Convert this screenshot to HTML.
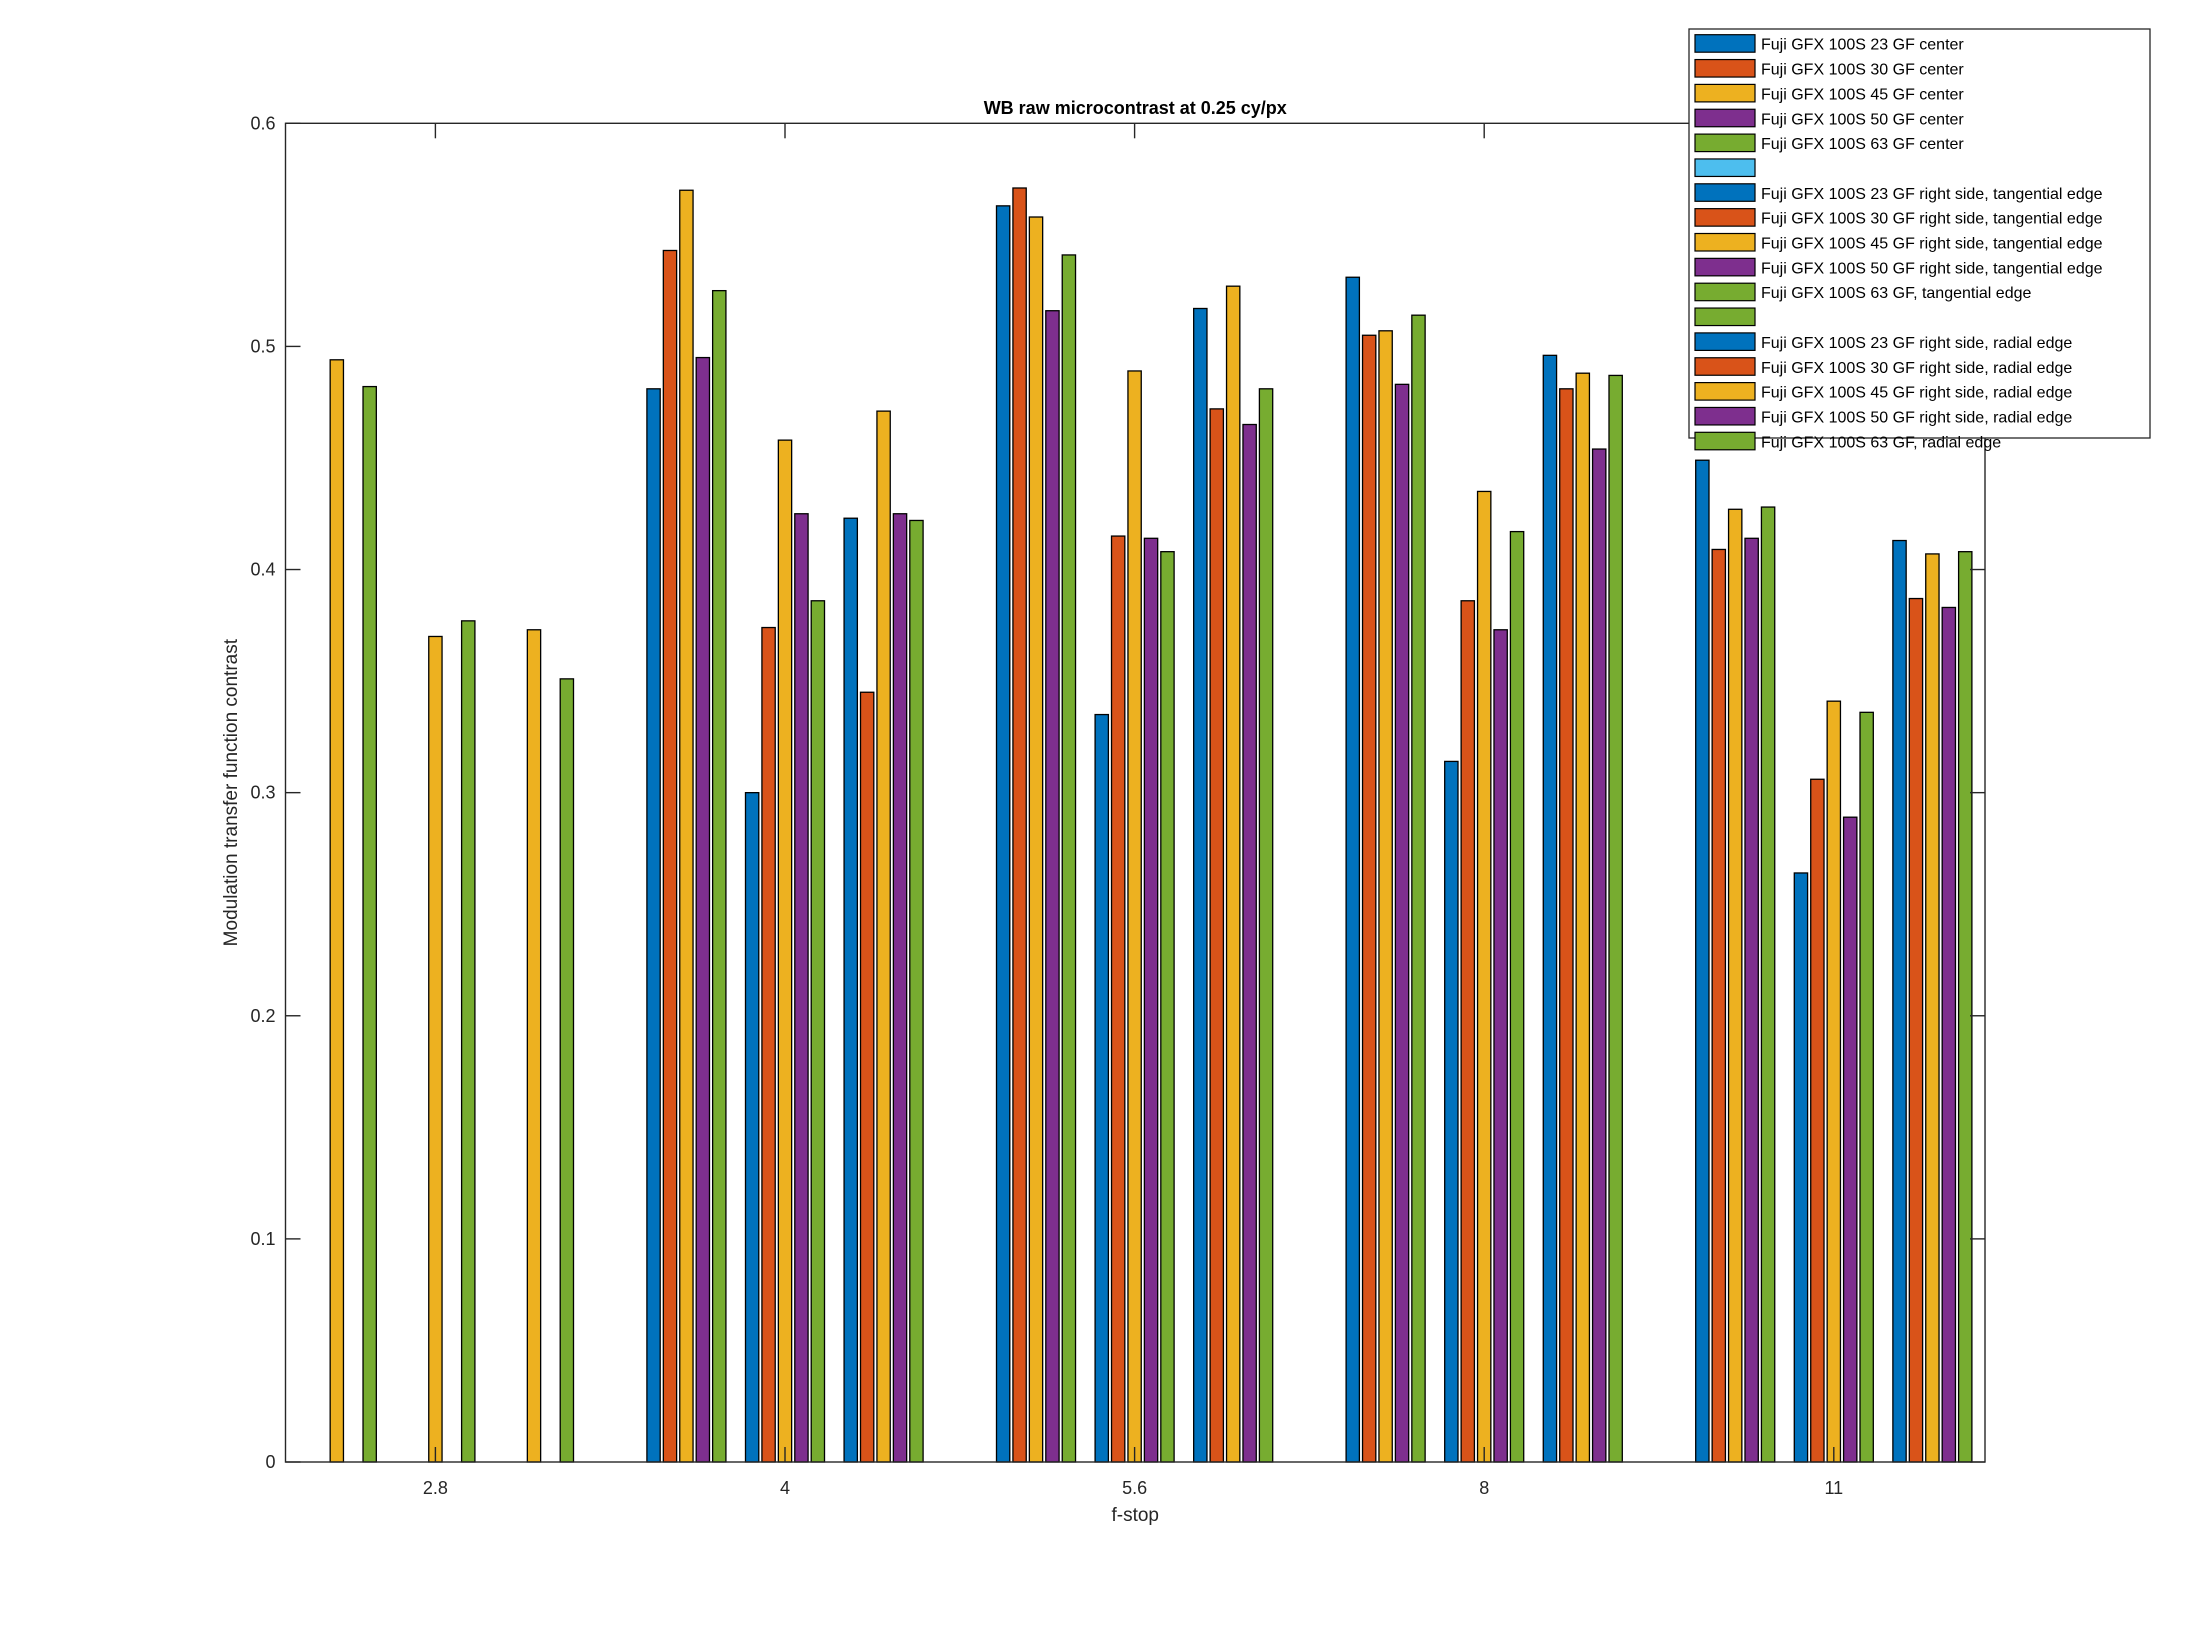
<!DOCTYPE html>
<html><head><meta charset="utf-8"><style>
html,body{margin:0;padding:0;background:#fff;}
svg{display:block;font-family:"Liberation Sans",Arial,sans-serif;}
</style></head><body>
<svg id="chart" width="2194" height="1644" viewBox="0 0 2194 1644" xmlns="http://www.w3.org/2000/svg">
<rect x="0" y="0" width="2194" height="1644" fill="#fff"/>
<g id="bars"></g>
<g id="axes"></g>
<g id="legend"></g>
</svg>
<script>
const categories = ["2.8","4","5.6","8","11"];
const yTicks = [0,0.1,0.2,0.3,0.4,0.5,0.6];
const seriesNames = ["Fuji GFX 100S 23 GF center","Fuji GFX 100S 30 GF center","Fuji GFX 100S 45 GF center","Fuji GFX 100S 50 GF center","Fuji GFX 100S 63 GF center","",
"Fuji GFX 100S 23 GF right side, tangential edge","Fuji GFX 100S 30 GF right side, tangential edge","Fuji GFX 100S 45 GF right side, tangential edge","Fuji GFX 100S 50 GF right side, tangential edge","Fuji GFX 100S 63 GF, tangential edge","",
"Fuji GFX 100S 23 GF right side, radial edge","Fuji GFX 100S 30 GF right side, radial edge","Fuji GFX 100S 45 GF right side, radial edge","Fuji GFX 100S 50 GF right side, radial edge","Fuji GFX 100S 63 GF, radial edge"];
const seriesColors = ["#0072BD","#D95319","#EDB120","#7E2F8E","#77AC30","#4DBEEE","#0072BD","#D95319","#EDB120","#7E2F8E","#77AC30","#77AC30","#0072BD","#D95319","#EDB120","#7E2F8E","#77AC30"];
// values per series, one entry per f-stop
const c23 = [0,0.481,0.563,0.531,0.449];
const c30 = [0,0.543,0.571,0.505,0.409];
const c45 = [0.494,0.570,0.558,0.507,0.427];
const c50 = [0,0.495,0.516,0.483,0.414];
const c63 = [0.482,0.525,0.541,0.514,0.428];
const blank1 = [0,0,0,0,0];
const t23 = [0,0.300,0.335,0.314,0.264];
const t30 = [0,0.374,0.415,0.386,0.306];
const t45 = [0.370,0.458,0.489,0.435,0.341];
const t50 = [0,0.425,0.414,0.373,0.289];
const t63 = [0.377,0.386,0.408,0.417,0.336];
const blank2 = [0,0,0,0,0];
const r23 = [0,0.423,0.517,0.496,0.413];
const r30 = [0,0.345,0.472,0.481,0.387];
const r45 = [0.373,0.471,0.527,0.488,0.407];
const r50 = [0,0.425,0.465,0.454,0.383];
const r63 = [0.351,0.422,0.481,0.487,0.408];
const seriesValues = [c23,c30,c45,c50,c63,blank1,t23,t30,t45,t50,t63,blank2,r23,r30,r45,r50,r63];

const NS="http://www.w3.org/2000/svg";
const L=285.5,R=1985,T=123.3,B=1462;
const catX0=435.4, catStep=349.6, pitch=catStep*0.047, bw=13.3;
function xCat(i){return catX0+i*catStep;}
function yv(v){return B-(v/0.6)*(B-T);}
function mk(tag,attrs,parent){const e=document.createElementNS(NS,tag);for(const k in attrs)e.setAttribute(k,attrs[k]);parent.appendChild(e);return e;}
const gb=document.getElementById('bars'), ga=document.getElementById('axes'), gl=document.getElementById('legend');

seriesValues.forEach((vals,s)=>{
  vals.forEach((v,i)=>{
    if(v<=0) return;
    const cx=xCat(i)+(s-8)*pitch;
    const r=mk('rect',{x:(cx-bw/2).toFixed(2),y:yv(v).toFixed(2),width:bw,height:(B-yv(v)).toFixed(2),fill:seriesColors[s],stroke:"#000","stroke-width":1.3},gb);
    
    
  });
});

// axes box
const box=mk('rect',{x:L,y:T,width:R-L,height:B-T,fill:"none",stroke:"#262626","stroke-width":1.4},ga);


yTicks.forEach(t=>{
  const y=yv(t);
  mk('line',{x1:L,y1:y,x2:L+15,y2:y,stroke:"#262626","stroke-width":1.4},ga);
  mk('line',{x1:R,y1:y,x2:R-15,y2:y,stroke:"#262626","stroke-width":1.4},ga);
  const tx=mk('text',{x:L-10,y:y+6,"text-anchor":"end","font-size":18,fill:"#262626"},ga);
  tx.textContent=String(t);
  
  
});
categories.forEach((c,i)=>{
  const x=xCat(i);
  mk('line',{x1:x,y1:B,x2:x,y2:B-15,stroke:"#262626","stroke-width":1.4},ga);
  mk('line',{x1:x,y1:T,x2:x,y2:T+15,stroke:"#262626","stroke-width":1.4},ga);
  const tx=mk('text',{x:x,y:B+32,"text-anchor":"middle","font-size":18,fill:"#262626"},ga);
  tx.textContent=c;
  
  
});
const title=mk('text',{x:(L+R)/2,y:114,"text-anchor":"middle","font-size":18,"font-weight":"bold",fill:"#000"},ga);
title.textContent="WB raw  microcontrast at 0.25 cy/px";


const xl=mk('text',{x:(L+R)/2,y:1521,"text-anchor":"middle","font-size":19,fill:"#262626"},ga);
xl.textContent="f-stop";


const yl=mk('text',{x:0,y:0,"text-anchor":"middle","font-size":19,fill:"#262626",transform:"translate(237,"+((T+B)/2)+") rotate(-90)"},ga);
yl.textContent="Modulation transfer function contrast";



// legend
const lb=mk('rect',{x:1689,y:29,width:461,height:409,fill:"#fff",stroke:"#262626","stroke-width":1.3},gl);


seriesNames.forEach((n,s)=>{
  const y=34.7+s*24.85;
  const sw=mk('rect',{x:1695,y:y,width:60,height:17.5,fill:seriesColors[s],stroke:"#000","stroke-width":1.2},gl);
  
  
  const tx=mk('text',{x:1761,y:y+15,"font-size":16,fill:"#000"},gl);
  tx.textContent=n;
  
  
});
</script>
</body></html>
